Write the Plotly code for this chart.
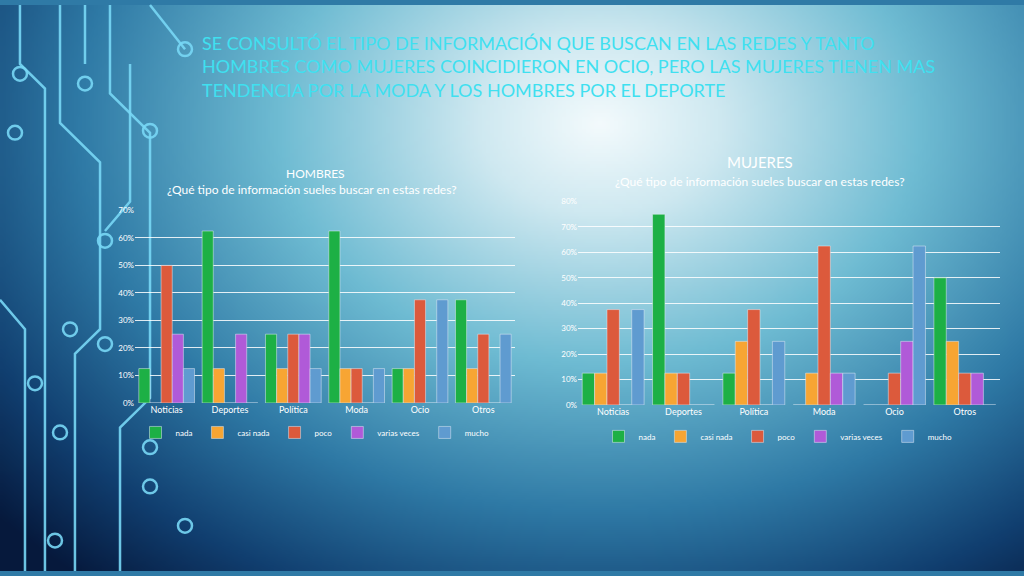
import base64
import struct
import zlib

import numpy as np
import plotly.graph_objects as go

categories = ["Noticias", "Deportes", "Política", "Moda", "Ocio", "Otros"]
series_names = ["nada", "casi nada", "poco", "varias veces", "mucho"]
colors = ["#1db045", "#f7a533", "#dc5a3c", "#b05ad8", "#5f9bd0"]

hombres_nada = [12.5, 62.5, 25, 62.5, 12.5, 37.5]
hombres_casi_nada = [0, 12.5, 12.5, 12.5, 12.5, 12.5]
hombres_poco = [50, 0, 25, 12.5, 37.5, 25]
hombres_varias = [25, 25, 25, 0, 0, 0]
hombres_mucho = [12.5, 0, 12.5, 12.5, 37.5, 25]

mujeres_nada = [12.5, 75, 12.5, 0, 0, 50]
mujeres_casi_nada = [12.5, 12.5, 25, 12.5, 0, 25]
mujeres_poco = [37.5, 12.5, 37.5, 62.5, 12.5, 12.5]
mujeres_varias = [0, 0, 0, 12.5, 25, 12.5]
mujeres_mucho = [37.5, 0, 25, 12.5, 62.5, 0]

hombres = [hombres_nada, hombres_casi_nada, hombres_poco, hombres_varias, hombres_mucho]
mujeres = [mujeres_nada, mujeres_casi_nada, mujeres_poco, mujeres_varias, mujeres_mucho]

FONT = "Lato"
W, H = 1024, 576


def gradient_png(w=256, h=144):
    """Radial blue gradient as a base64 PNG, used as the slide background."""
    xs = np.linspace(0, W, w)
    ys = np.linspace(0, H, h)
    X, Y = np.meshgrid(xs, ys)
    d = np.clip(np.sqrt(((X - 600) / 620) ** 2 + ((Y - 120) / 470) ** 2) / 1.3, 0, 1)
    stops = [0, 0.15, 0.4, 0.65, 0.85, 1]
    cols = np.array([[244, 251, 253], [207, 233, 241], [111, 188, 211],
                     [47, 122, 166], [17, 63, 112], [6, 25, 60]], dtype=float)
    rgb = np.stack([np.interp(d, stops, cols[:, k]) for k in range(3)], axis=-1).astype(np.uint8)
    raw = b"".join(b"\x00" + rgb[r].tobytes() for r in range(h))

    def chunk(tag, data):
        c = struct.pack(">I", len(data)) + tag + data
        return c + struct.pack(">I", zlib.crc32(tag + data) & 0xFFFFFFFF)

    png = b"\x89PNG\r\n\x1a\n" + chunk(b"IHDR", struct.pack(">IIBBBBB", w, h, 8, 2, 0, 0, 0))
    png += chunk(b"IDAT", zlib.compress(raw, 9)) + chunk(b"IEND", b"")
    return "data:image/png;base64," + base64.b64encode(png).decode()


fig = go.Figure()

for name, vals, c in zip(series_names, hombres, colors):
    fig.add_trace(go.Bar(x=categories, y=[v / 100 for v in vals], name=name,
                         marker_color=c, xaxis="x", yaxis="y", legend="legend"))
for name, vals, c in zip(series_names, mujeres, colors):
    fig.add_trace(go.Bar(x=categories, y=[v / 100 for v in vals], name=name,
                         marker_color=c, xaxis="x2", yaxis="y2", legend="legend2"))

axis_common = dict(showline=False, ticks="", tickfont=dict(size=9, color="#ffffff", family=FONT))
yax_common = dict(tickformat=".0%", dtick=0.1, gridcolor="rgba(255,255,255,0.85)", gridwidth=1,
                  zeroline=False, tickfont=dict(size=8, color="#ffffff", family=FONT))
leg_common = dict(orientation="h", xanchor="center", yanchor="middle",
                  font=dict(size=8, color="#ffffff"), bgcolor="rgba(0,0,0,0)",
                  itemwidth=30, tracegroupgap=0)

fig.update_layout(
    width=W, height=H,
    margin=dict(l=0, r=0, t=0, b=0),
    paper_bgcolor="#2f7aa6", plot_bgcolor="rgba(0,0,0,0)",
    barmode="group", bargap=0.12, bargroupgap=0,
    showlegend=True,
    font=dict(family=FONT, color="#ffffff"),
    xaxis=dict(domain=[135 / W, 515 / W], anchor="y", **axis_common),
    yaxis=dict(domain=[1 - 405 / H, 1 - 209 / H], range=[0, 0.7], anchor="x", **yax_common),
    xaxis2=dict(domain=[578 / W, 1000 / W], anchor="y2", **axis_common),
    yaxis2=dict(domain=[1 - 407 / H, 1 - 200 / H], range=[0, 0.8], anchor="x2", **yax_common),
    legend=dict(x=315 / W, y=1 - 435 / H, **leg_common),
    legend2=dict(x=778 / W, y=1 - 439 / H, **leg_common),
    images=[dict(source=gradient_png(), xref="paper", yref="paper", x=0, y=1, sizex=1, sizey=1,
                 xanchor="left", yanchor="top", sizing="stretch", layer="below")],
)

annotations = [
    dict(x=200 / W, y=1 - 25 / H, xanchor="left", yanchor="top", align="left",
         text="SE CONSULTÓ EL TIPO DE INFORMACIÓN QUE BUSCAN EN LAS REDES Y TANTO<br>"
              "HOMBRES COMO MUJERES COINCIDIERON EN OCIO, PERO LAS MUJERES TIENEN MAS<br>"
              "TENDENCIA POR LA MODA Y LOS HOMBRES POR EL DEPORTE",
         font=dict(size=18, color="#3fe0f0", family=FONT)),
    dict(x=315 / W, y=1 - 171 / H, text="HOMBRES", font=dict(size=12, color="#ffffff")),
    dict(x=312 / W, y=1 - 188 / H, text="¿Qué tipo de información sueles buscar en estas redes?",
         font=dict(size=12, color="#ffffff")),
    dict(x=760 / W, y=1 - 160 / H, text="MUJERES", font=dict(size=15, color="#ffffff")),
    dict(x=760 / W, y=1 - 180 / H, text="¿Qué tipo de información sueles buscar en estas redes?",
         font=dict(size=12, color="#ffffff")),
]
fig.update_layout(annotations=[dict(dict(xanchor="center", yanchor="middle"), **a,
                                    xref="paper", yref="paper", showarrow=False)
                               for a in annotations])

# decorative circuit lines on the left edge (pixel coords -> paper)
def px(x, y):
    return f"{x / W:.4f} {1 - y / H:.4f}"


line_col = "rgba(120,215,245,0.9)"
paths = [
    [(20, 0), (20, 60), (45, 85), (45, 576)],
    [(60, 0), (60, 120), (100, 160), (100, 330), (75, 355), (75, 576)],
    [(110, 0), (110, 90), (150, 130), (150, 400), (120, 430), (120, 576)],
    [(150, 0), (185, 45)],
    [(0, 300), (25, 330), (25, 576)],
    [(85, 0), (85, 60)],
    [(130, 60), (130, 200), (105, 230)],
]
shapes = []
for pts in paths:
    p = "M " + " L ".join(px(x, y) for x, y in pts)
    shapes.append(dict(type="path", path=p, xref="paper", yref="paper",
                       line=dict(color=line_col, width=2.5), layer="below"))
circles = [(185, 45), (85, 80), (20, 70), (150, 128), (105, 240), (15, 130), (70, 330),
           (35, 385), (105, 345), (150, 450), (60, 435), (185, 530), (55, 545), (150, 490)]
for cx, cy in circles:
    shapes.append(dict(type="circle", xref="paper", yref="paper",
                       x0=(cx - 7) / W, x1=(cx + 7) / W, y0=1 - (cy + 7) / H, y1=1 - (cy - 7) / H,
                       line=dict(color=line_col, width=2.5), layer="below"))
fig.update_layout(shapes=shapes)

fig.write_html("out.html", config={"displayModeBar": False},
               post_script="document.body.style.margin='0';")
